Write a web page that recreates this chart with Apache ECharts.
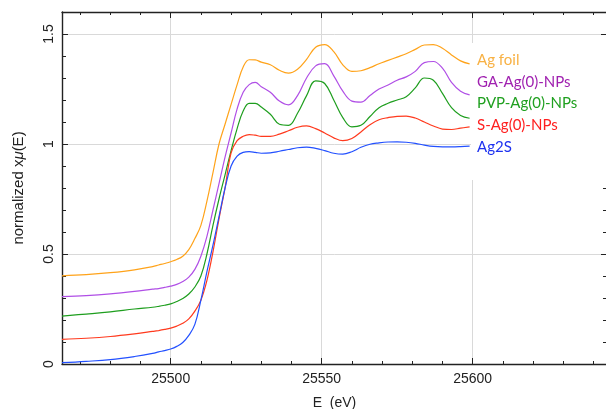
<!DOCTYPE html>
<html>
<head>
<meta charset="utf-8">
<script src="https://cdn.jsdelivr.net/npm/echarts@6/dist/echarts.min.js"></script>
<style>html,body{margin:0;padding:0;background:#fff}#c{width:606px;height:409px}</style>
</head>
<body>
<div id="c"></div>
<script>
// Energy grid (eV)
const energy = [25464,25472,25480,25488,25494,
  25496,25498,25500,25502,25504,25506,25508,25510,25512,25514,25516,25518,25520,25522,25524,25526,25528,25530,
  25533,25536,25539,25542,25545,25548,25551,25554,25557,25560,25563,25566,25569,25572,25575,25578,25581,25584,25587,25590,25593,25596,25599];

const agFoil = [0.401,0.406,0.415,0.428,0.443,
  0.45,0.457,0.465,0.475,0.49,0.52,0.57,0.63,0.74,0.87,1.0,1.09,1.18,1.27,1.35,1.383,1.382,1.372,
  1.36,1.335,1.322,1.34,1.385,1.44,1.452,1.42,1.36,1.33,1.333,1.347,1.365,1.38,1.395,1.41,1.43,1.45,1.452,1.435,1.405,1.378,1.364];
const gaAg = [0.306,0.311,0.319,0.33,0.34,
  0.343,0.348,0.354,0.362,0.375,0.395,0.43,0.49,0.58,0.7,0.82,0.94,1.05,1.16,1.235,1.27,1.28,1.26,
  1.235,1.195,1.178,1.22,1.3,1.355,1.365,1.31,1.24,1.195,1.19,1.22,1.25,1.268,1.29,1.305,1.33,1.37,1.375,1.345,1.28,1.24,1.223];
const pvpAg = [0.218,0.227,0.237,0.25,0.258,
  0.262,0.267,0.273,0.284,0.298,0.318,0.35,0.4,0.5,0.63,0.75,0.86,0.97,1.07,1.15,1.185,1.185,1.168,
  1.135,1.09,1.085,1.14,1.22,1.287,1.275,1.2,1.12,1.078,1.085,1.125,1.165,1.185,1.2,1.215,1.255,1.3,1.29,1.23,1.165,1.13,1.117];
const sAg = [0.112,0.117,0.125,0.137,0.148,
  0.152,0.157,0.163,0.172,0.185,0.205,0.24,0.29,0.38,0.51,0.66,0.8,0.96,1.015,1.035,1.043,1.04,1.035,
  1.035,1.045,1.06,1.076,1.082,1.07,1.05,1.028,1.015,1.025,1.055,1.088,1.11,1.12,1.126,1.127,1.118,1.1,1.082,1.068,1.066,1.072,1.078];
const ag2s = [0.006,0.012,0.02,0.034,0.048,
  0.055,0.061,0.068,0.08,0.098,0.13,0.18,0.29,0.42,0.54,0.67,0.8,0.9,0.945,0.962,0.965,0.962,0.958,
  0.96,0.967,0.975,0.983,0.986,0.98,0.97,0.958,0.954,0.965,0.985,0.999,1.005,1.009,1.01,1.008,1.003,0.995,0.989,0.987,0.987,0.988,0.99];

const seriesNames = ['Ag foil','GA-Ag(0)-NPs','PVP-Ag(0)-NPs','S-Ag(0)-NPs','Ag2S'];
const seriesValues = [agFoil, gaAg, pvpAg, sAg, ag2s];
const lineColors = ['#FFA31A','#B04FE6','#1E9E1E','#FF3A1E','#2250FF'];
const legendColors = ['#F8B144','#A021B0','#20A020','#FF2020','#1E32F0'];

// Ticks
const xMajor = [25500,25550,25600];
const xMinor = [25470,25480,25490,25510,25520,25530,25540,25560,25570,25580,25590,25610,25620,25630,25640];
const yMajor = [0,0.5,1,1.5];
const yMinor = [0.1,0.2,0.3,0.4,0.6,0.7,0.8,0.9,1.1,1.2,1.3,1.4];

const X_MIN = 25464, X_MAX = 25644.5, Y_MIN = 0, Y_MAX = 1.6;
const AX = '#222';

function xAx(pos, vals, len, main) {
  return {
    type:'value', min:X_MIN, max:X_MAX, position:pos,
    axisLine:{show:main, onZero:false, lineStyle:{color:AX, width:1.4}},
    axisTick:{show:true, inside:true, length:len, customValues:vals, lineStyle:{color:AX, width:1}},
    axisLabel:{show: main && pos==='bottom', customValues: vals, formatter: v => String(v),
               color:'#222', fontSize:14, fontFamily:'Liberation Sans', margin:8},
    splitLine:{show: main && pos==='bottom', lineStyle:{color:'#d9d9d9', width:1}},
    name: (main && pos==='bottom') ? 'E  (eV)' : '',
    nameLocation:'middle', nameGap:32,
    nameTextStyle:{color:'#222', fontSize:14, fontFamily:'Liberation Sans'}
  };
}
function yAx(pos, vals, len, main) {
  return {
    type:'value', min:Y_MIN, max:Y_MAX, position:pos,
    axisLine:{show:main, onZero:false, lineStyle:{color:AX, width:1.4}},
    axisTick:{show:true, inside:true, length:len, customValues:vals, lineStyle:{color:AX, width:1}},
    axisLabel:{show: main && pos==='left', customValues: vals, rotate:90, align:'center', verticalAlign:'bottom',
               color:'#222', fontSize:14, fontFamily:'Liberation Sans', margin:6},
    splitLine:{show: main && pos==='left', lineStyle:{color:'#d9d9d9', width:1}},
    name: (main && pos==='left') ? 'normalized x{i|μ}(E)' : '',
    nameLocation:'middle', nameGap:36,
    nameTextStyle:{color:'#222', fontSize:15, fontFamily:'Liberation Sans', rich:{i:{fontStyle:'italic', fontSize:15, fontFamily:'Liberation Sans', color:'#222'}}}
  };
}

const chart = echarts.init(document.getElementById('c'), null, {renderer:'canvas'});
chart.setOption({
  animation:false,
  backgroundColor:'#fff',
  grid:{left:62, right:-1, top:12, bottom:45, containLabel:false, outerBoundsMode:'none'},
  xAxis:[
    xAx('bottom', xMajor, 6, true),
    xAx('bottom', xMinor, 3, false),
    xAx('top', xMajor, 6, true),
    xAx('top', xMinor, 3, false)
  ],
  yAxis:[
    yAx('left', yMajor, 6, true),
    yAx('left', yMinor, 4, false),
    yAx('right', yMajor, 6, true),
    yAx('right', yMinor, 4, false)
  ],
  legend:{
    orient:'vertical', left:467, top:46, icon:'none', itemWidth:0, itemHeight:14, itemGap:3.7,
    selectedMode:false, z:200,
    textStyle:{fontFamily:'Lato', fontSize:15, lineHeight:18},
    data: seriesNames.map((n,i)=>({name:n, textStyle:{color:legendColors[i]}}))
  },
  graphic:[{type:'rect', z:100, shape:{x:471, y:43, width:140, height:137}, style:{fill:'#fff'}}],
  series: seriesNames.map((n,i)=>({
    name:n, type:'line', xAxisIndex:0, yAxisIndex:0,
    data: energy.map((e,k)=>[e, seriesValues[i][k]]),
    showSymbol:false, smooth:0.4,
    lineStyle:{color:lineColors[i], width:1.2},
    itemStyle:{color:lineColors[i]}
  }))
});
</script>
</body>
</html>
